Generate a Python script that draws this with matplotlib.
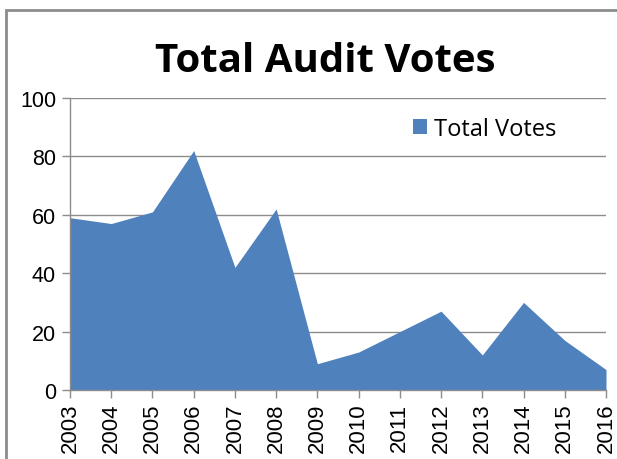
import matplotlib
matplotlib.use("Agg")
import matplotlib.pyplot as plt
from matplotlib.patches import Rectangle

years = ["2003", "2004", "2005", "2006", "2007", "2008", "2009",
         "2010", "2011", "2012", "2013", "2014", "2015", "2016"]
votes = [59, 57, 61, 82, 42, 62, 9, 13, 20, 27, 12, 30, 17, 7]
yticks = [0, 20, 40, 60, 80, 100]
title = "Total Audit Votes"
series_name = "Total Votes"

fig = plt.figure(figsize=(6.17, 4.60), dpi=100)
W, H = 617, 460
ax = fig.add_axes([70 / W, 1 - 391 / H, (606 - 70) / W, (391 - 99) / H])

# outer chart border (cropped screenshot frame)
fig.patches.append(Rectangle((6 / W, -0.05), 1.2, 1 - 11 / H + 0.05,
                             transform=fig.transFigure, fill=False,
                             edgecolor="#8c8c8c", linewidth=2.0))

x = list(range(len(years)))
ax.fill_between(x, votes, 0, color="#4F81BD", linewidth=0, label=series_name, zorder=2)
ax.set_xlim(0, len(years) - 1)
ax.set_ylim(0, 100)
ax.set_yticks(yticks)
ax.set_xticks(x)
ax.set_xticklabels(years, rotation=90, fontsize=16, family="Liberation Sans")
ax.set_yticklabels([str(v) for v in yticks], fontsize=15.5, family="Liberation Sans")
ax.grid(axis="y", color="#8c8c8c", linewidth=1.0, zorder=1)
ax.set_axisbelow(True)
for s in ["top", "right"]:
    ax.spines[s].set_visible(False)
for s in ["left", "bottom"]:
    ax.spines[s].set_color("#8c8c8c")
    ax.spines[s].set_linewidth(1.0)
ax.tick_params(axis="both", direction="out", length=6, color="#8c8c8c", width=1.0,
               labelcolor="black")
ax.tick_params(axis="y", pad=4)
ax.tick_params(axis="x", pad=3)

fig.text(325 / W, 1 - 62 / H, title, ha="center", va="center",
         fontsize=29, fontweight="bold", family="Open Sans")

leg = ax.legend(loc="upper left", bbox_to_anchor=((413 - 70) / (606 - 70), 1 - (118 - 99) / (391 - 99)),
                frameon=False, handlelength=0.6, handleheight=0.6,
                handletextpad=0.3, borderaxespad=0, borderpad=0,
                prop={"family": "Open Sans", "size": 17})
fig.savefig("out.png", dpi=100)
